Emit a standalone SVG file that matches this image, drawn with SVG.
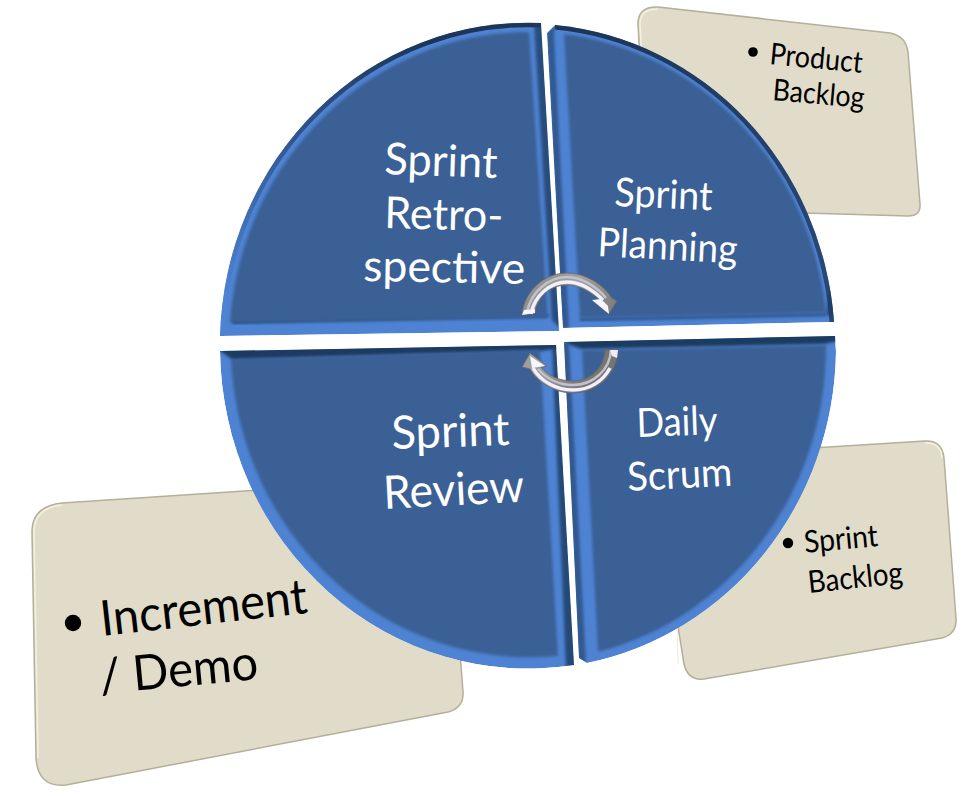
<svg xmlns="http://www.w3.org/2000/svg" width="974" height="796" viewBox="0 0 974 796">
<style>
.panel{fill:#e0dcc9;stroke:#b4af9a;stroke-width:1.5}
.rim{fill:none;stroke:#f4f1e2;stroke-width:1.5}
.face{fill:#3b6096}
.base{fill:#4e83d3}
.dark{fill:#1f3a60}
.mid{fill:#32598f}
.w{font-family:"Lato","Noto Sans",sans-serif;fill:#fff}
.k{font-family:"Lato","Noto Sans",sans-serif;fill:#000}
.b{fill:#000}
.soft{filter:url(#blur)}
.rib{fill:none;stroke-linecap:butt}
</style>
<defs>
<filter id="blur" x="-10%" y="-10%" width="120%" height="120%"><feGaussianBlur stdDeviation="1.6"/></filter>
<filter id="blur2" x="-10%" y="-10%" width="120%" height="120%"><feGaussianBlur stdDeviation="0.6"/></filter>
<linearGradient id="tlArc" gradientUnits="userSpaceOnUse" x1="225" y1="300" x2="440" y2="50"><stop offset="0" stop-color="#4e83d3"/><stop offset="0.55" stop-color="#2f5288"/><stop offset="1" stop-color="#1c3558"/></linearGradient>
<linearGradient id="trArc" gradientUnits="userSpaceOnUse" x1="560" y1="30" x2="835" y2="320"><stop offset="0" stop-color="#1c3558"/><stop offset="1" stop-color="#2a4a78"/></linearGradient>
<linearGradient id="silver" gradientUnits="userSpaceOnUse" x1="520" y1="270" x2="620" y2="320"><stop offset="0" stop-color="#858585"/><stop offset="0.5" stop-color="#a2a2a2"/><stop offset="1" stop-color="#757575"/></linearGradient>
<clipPath id="cTL"><path d="M220,336 A308,322 0 0 1 541,23 L559,331 Z"/></clipPath>
<clipPath id="cTR"><path d="M555,25 L547,33 L563,328 L834,322 A308,322 0 0 0 555,25 Z"/></clipPath>
<clipPath id="cBR"><path d="M564,342 L835,336 L836,352 A308,322 0 0 1 587,663 L579,658 Z"/></clipPath>
<clipPath id="cBL"><path d="M220,351 L556,345 L574,665 A308,322 0 0 1 220,351 Z"/></clipPath>
</defs>

<g id="panel-product-backlog">
<path class="panel" d="M658,7 L890,33 Q906,36 908,52 L920,204 Q921,216 908,216 L700,210 Q650,200 645,150 L638,24 Q638,6 658,7 Z"/>
<path class="rim" d="M658,9 Q640,9 640,24 L645,120"/>
<circle class="b" cx="753" cy="52" r="4.8"/>
<text class="k" font-size="30" transform="translate(769,64) rotate(5.5)" textLength="93" lengthAdjust="spacingAndGlyphs">Product</text>
<text class="k" font-size="30" transform="translate(772,100) rotate(5)" textLength="92" lengthAdjust="spacingAndGlyphs">Backlog</text>
</g>

<g id="panel-increment">
<path class="panel" d="M62,503 L440,478 L456,600 L463,692 Q464,708 448,712 L66,785 Q38,788 36,758 L32,532 Q32,506 62,503 Z"/>
<path class="rim" d="M62,505 Q34,508 34,532 L38,758"/>
<circle class="b" cx="73" cy="623" r="8.2"/>
<text class="k" font-size="49" transform="translate(102,636) rotate(-6.4)" textLength="208" lengthAdjust="spacingAndGlyphs">Increment</text>
<text class="k" font-size="49" transform="translate(101,694) rotate(-5.4)" textLength="159" lengthAdjust="spacingAndGlyphs">/ Demo</text>
</g>

<g id="panel-sprint-backlog">
<path class="panel" d="M780,450 L925,441 Q942,440 944,458 L956,618 Q957,634 942,638 L704,679 Q688,681 684,664 L677,620 L700,500 Z"/>
<path class="rim" d="M677,620 L678,664 M925,443 Q941,442 942,458"/>
<circle class="b" cx="788" cy="543" r="5.2"/>
<text class="k" font-size="31" transform="translate(805,553) rotate(-5.4)" textLength="74" lengthAdjust="spacingAndGlyphs">Sprint</text>
<text class="k" font-size="31" transform="translate(809,593) rotate(-6)" textLength="95" lengthAdjust="spacingAndGlyphs">Backlog</text>
</g>

<g id="node-sprint-review">
<g clip-path="url(#cBL)">
<path class="base" d="M220,351 L556,345 L574,665 A308,322 0 0 1 220,351 Z"/>
<path class="dark soft" d="M216,348 L560,342 L560,348 L540,351 L233,360 Z"/>
<path class="dark soft" d="M552,345 L560,345 L578,668 L566,668 Z" opacity="0.8"/>
<path class="face soft" d="M231,359 L540,350 L558,656 A299,313 0 0 1 231,359 Z"/>
<path class="face" d="M234,362 L537,353 L555,653 A296,310 0 0 1 234,362 Z"/>
</g>
<text class="w" font-size="46" transform="translate(392,449) rotate(-2)" textLength="118" lengthAdjust="spacingAndGlyphs">Sprint</text>
<text class="w" font-size="46" transform="translate(384,509) rotate(-3)" textLength="141" lengthAdjust="spacingAndGlyphs">Review</text>
</g>

<g id="node-daily-scrum">
<g clip-path="url(#cBR)">
<path class="base" d="M564,342 L835,336 L836,352 A308,322 0 0 1 587,663 L579,658 Z"/>
<path class="dark soft" d="M560,339 L838,333 L838,341 L824,344 L582,349 L570,345 Z"/>
<path class="mid soft" d="M562,342 L569,342 L586,664 L578,660 Z"/>
<path class="face soft" d="M582,350 L826,345 A299,313 0 0 1 598,652 Z"/>
<path class="face" d="M585,353 L823,348 A296,310 0 0 1 601,649 Z"/>
</g>
<text class="w" font-size="40" transform="translate(637,437) rotate(-2)" textLength="81" lengthAdjust="spacingAndGlyphs">Daily</text>
<text class="w" font-size="40" transform="translate(628,491) rotate(-3)" textLength="105" lengthAdjust="spacingAndGlyphs">Scrum</text>
</g>

<g id="node-sprint-planning">
<g clip-path="url(#cTR)">
<path class="base" d="M555,25 L547,33 L563,328 L834,322 A308,322 0 0 0 555,25 Z"/>
<path d="M555,25 A308,322 0 0 1 834,322" fill="none" stroke="url(#trArc)" stroke-width="9"/>
<path class="mid soft" d="M547,33 L555,25 L554,36 L569,328 L561,328 Z"/>
<path class="dark soft" d="M826,314 L838,322 L842,300 L832,270 Z" opacity="0.7"/>
<path class="dark soft" d="M580,318 L826,313 L826,316 L580,321 Z" opacity="0.7"/>
<path class="face soft" d="M564,34 A299,313 0 0 1 826,313 L580,318 Z"/>
<path class="face" d="M567,37 A296,310 0 0 1 823,310 L583,315 Z"/>
</g>
<text class="w" font-size="40" transform="translate(614,206) rotate(2.5)" textLength="98" lengthAdjust="spacingAndGlyphs">Sprint</text>
<text class="w" font-size="40" transform="translate(597,256) rotate(3)" textLength="140" lengthAdjust="spacingAndGlyphs">Planning</text>
</g>

<g id="node-sprint-retrospective">
<g clip-path="url(#cTL)">
<path class="base" d="M220,336 A308,322 0 0 1 541,23 L559,331 Z"/>
<path d="M220,336 A308,322 0 0 1 541,23" fill="none" stroke="url(#tlArc)" stroke-width="9"/>
<path class="dark soft" d="M534,22 L544,22 L562,331 L552,320 Z" opacity="0.75"/>
<path class="dark soft" d="M232,320 L548,314 L548,317 L232,324 Z" opacity="0.8"/>
<path class="face soft" d="M230,322 A299,313 0 0 1 529,32 L548,318 Z"/>
<path class="face" d="M233,319 A296,310 0 0 1 526,35 L545,315 Z"/>
</g>
<text class="w" font-size="44" transform="translate(384,174) rotate(2)" textLength="113" lengthAdjust="spacingAndGlyphs">Sprint</text>
<text class="w" font-size="44" transform="translate(384,228) rotate(1.5)" textLength="119" lengthAdjust="spacingAndGlyphs">Retro-</text>
<text class="w" font-size="44" transform="translate(363,281) rotate(1)" textLength="162" lengthAdjust="spacingAndGlyphs">spective</text>
</g>

<g id="connectors">
<g id="arrow-top">
<path fill="url(#silver)" stroke="#666" stroke-width="0.8" d="M522,315 C524,290 545,273 567,273 C585,273 603,284 612,298 L617,301 L609,314 L593,301 L600,300 C590,292 580,285 567,285 C550,285 537,297 535,313 Z"/>
<path class="rib" stroke="#c2c2c8" stroke-width="2.5" d="M527,313 C530,293 548,277 567,277 C582,277 597,287 606,298" filter="url(#blur2)"/>
<path class="rib" stroke="#f2f0fc" stroke-width="3.5" d="M531,314 C534,296 550,282 567,282 C581,282 593,290 603,300"/>
<path fill="#f6f6fb" d="M592,300 L609,314 L608,306 L601,299 Z"/>
<path fill="#f6f6fb" d="M522,315 L535,313 L535,309 L524,310 Z"/>
</g>
<g id="arrow-bottom">
<path fill="url(#silver)" stroke="#666" stroke-width="0.8" d="M605,350 L618,350 C617,375 597,393 573,393 C555,393 538,383 530,369 L522,367 L530,353 L547,366 L541,367 C548,376 560,381 573,381 C590,381 604,368 605,350 Z"/>
<path class="rib" stroke="#c2c2c8" stroke-width="2.5" d="M611,350 C610,370 593,385 573,385 C558,385 546,378 538,369" filter="url(#blur2)"/>
<path class="rib" stroke="#f2f0fc" stroke-width="3.5" d="M533,368 C541,382 557,390 573,390 C590,390 603,381 610,368"/>
<path fill="#f6f6fb" d="M530,356 L545,366 L532,368 Z"/>
<path fill="#eeeef4" d="M610,350 L618,350 L617,358 L612,356 Z"/>
</g>
</g>
</svg>
